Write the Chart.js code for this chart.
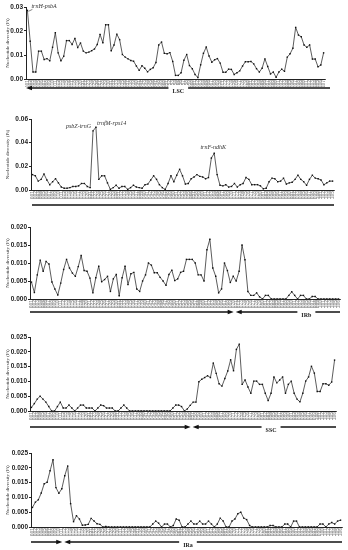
<!DOCTYPE html>
<html>
<head>
<meta charset="utf-8">
<script src="https://cdn.jsdelivr.net/npm/chart.js@4.4.1/dist/chart.umd.min.js"></script>
<style>
    body { margin: 0; background: #fff; width: 348px; height: 550px; overflow: hidden; position: relative; }
    .panel { position: absolute; left: 0; width: 348px; }
</style>
</head>
<body>
<div class="panel" style="top:0;height:100px"><canvas id="c0"></canvas></div>
<div class="panel" style="top:110px;height:100px"><canvas id="c1"></canvas></div>
<div class="panel" style="top:220px;height:100px"><canvas id="c2"></canvas></div>
<div class="panel" style="top:330px;height:108px"><canvas id="c3"></canvas></div>
<div class="panel" style="top:440px;height:110px"><canvas id="c4"></canvas></div>
<script>
// nucleotide diversity per sliding window
const piLSC = [
    0.0286, 0.0157, 0.0029, 0.0029, 0.0116, 0.0116, 0.0081, 0.0085, 0.0076, 0.0132,
    0.0193, 0.0109, 0.0076, 0.0095, 0.016, 0.016, 0.0144, 0.0169, 0.0131, 0.015,
    0.0116, 0.0109, 0.0112, 0.0118, 0.0125, 0.0144, 0.0186, 0.0151, 0.0226, 0.0226,
    0.0118, 0.0142, 0.0187, 0.0164, 0.0102, 0.0091, 0.0084, 0.0077, 0.0074, 0.0054,
    0.0036, 0.0055, 0.0045, 0.003, 0.004, 0.0047, 0.0069, 0.0142, 0.0154, 0.0107,
    0.0105, 0.011, 0.0073, 0.0015, 0.0015, 0.0026, 0.0078, 0.0102, 0.0056, 0.0043,
    0.0019, 0.0006, 0.0059, 0.0107, 0.0133, 0.0096, 0.007, 0.008, 0.0085, 0.0066,
    0.0028, 0.0028, 0.0041, 0.004, 0.0019, 0.0026, 0.0034, 0.0054, 0.0072, 0.0072,
    0.0073, 0.0063, 0.0043, 0.0029, 0.0045, 0.0084, 0.0052, 0.0021, 0.0029, 0.0007,
    0.0029, 0.0041, 0.0032, 0.0091, 0.0105, 0.0128, 0.0215, 0.0183, 0.0176, 0.0142,
    0.0132, 0.0142, 0.0083, 0.0083, 0.0051, 0.0058, 0.0109
];
const piLSC2 = [
    0.013, 0.012, 0.0075, 0.009, 0.0135, 0.0085, 0.0045, 0.007, 0.0095, 0.006,
    0.0025, 0.0015, 0.0015, 0.002, 0.003, 0.003, 0.0035, 0.0055, 0.0055, 0.003,
    0.002, 0.05, 0.053, 0.009, 0.012, 0.012, 0.006, 0.0005, 0.002, 0.004,
    0.0015, 0.003, 0.003, 0.0005, 0.002, 0.004, 0.0025, 0.002, 0.0015, 0.0045,
    0.005, 0.0085, 0.012, 0.009, 0.0045, 0.002, 0.0005, 0.0055, 0.012, 0.007,
    0.0125, 0.0175, 0.012, 0.005, 0.0055, 0.0095, 0.011, 0.013, 0.0115, 0.011,
    0.0095, 0.0105, 0.027, 0.031, 0.013, 0.004, 0.0035, 0.0045, 0.0025, 0.003,
    0.0055, 0.0025, 0.0045, 0.0055, 0.0105, 0.009, 0.0045, 0.0045, 0.0045, 0.0035,
    0.001, 0.0015, 0.007, 0.01, 0.0095, 0.007, 0.0075, 0.01, 0.005, 0.006,
    0.0065, 0.009, 0.0125, 0.009, 0.007, 0.004, 0.009, 0.0125, 0.01, 0.0095,
    0.0085, 0.0045, 0.006, 0.0075, 0.0075
];
const piIRb = [
    0.0047, 0.0018, 0.0067, 0.0108, 0.0077, 0.0104, 0.0097, 0.0047, 0.0028, 0.0011,
    0.0044, 0.0082, 0.011, 0.0086, 0.0072, 0.0063, 0.009, 0.0121, 0.0079, 0.0077,
    0.0058, 0.0017, 0.0059, 0.0091, 0.0048, 0.0054, 0.0063, 0.0021, 0.0056, 0.0068,
    0.0009, 0.0059, 0.0091, 0.004, 0.007, 0.0074, 0.0028, 0.0021, 0.005, 0.0067,
    0.01, 0.0094, 0.0073, 0.0073, 0.006, 0.005, 0.0038, 0.0068, 0.008, 0.0051,
    0.0056, 0.0074, 0.0077, 0.011, 0.011, 0.011, 0.01, 0.0067, 0.0067, 0.005,
    0.0137, 0.0166, 0.0086, 0.0063, 0.0017, 0.0028, 0.01, 0.0079, 0.0046, 0.0063,
    0.005, 0.0077, 0.015, 0.0109, 0.0021, 0.001, 0.001, 0.0017, 0.0006, 0,
    0.001, 0.001, 0, 0, 0, 0, 0, 0, 0.001, 0.002,
    0.001, 0, 0.001, 0.001, 0, 0, 0.0007, 0.0007, 0, 0,
    0, 0, 0, 0, 0, 0
];
const piSSC = [
    0.0012, 0.0025, 0.004, 0.005, 0.004, 0.003, 0.0015, 0, 0, 0.0015,
    0.003, 0.001, 0.001, 0.002, 0.001, 0, 0.001, 0.002, 0.002, 0.001,
    0.001, 0.001, 0, 0.001, 0.002, 0.0018, 0.001, 0.001, 0.001, 0,
    0, 0.001, 0.002, 0.001, 0, 0, 0, 0, 0, 0,
    0, 0, 0, 0, 0, 0, 0, 0, 0, 0.001,
    0.002, 0.002, 0.0015, 0, 0.0007, 0.0019, 0.003, 0.003, 0.0099, 0.0107,
    0.0113, 0.0119, 0.0113, 0.0162, 0.0127, 0.0092, 0.0084, 0.011, 0.0135, 0.0173,
    0.0136, 0.0208, 0.0226, 0.009, 0.0105, 0.0081, 0.006, 0.0101, 0.0101, 0.009,
    0.009, 0.006, 0.0035, 0.006, 0.0115, 0.0095, 0.0105, 0.0115, 0.006, 0.009,
    0.0101, 0.006, 0.004, 0.0031, 0.006, 0.0101, 0.0115, 0.0151, 0.0128, 0.0066,
    0.0066, 0.0092, 0.0092, 0.0087, 0.0098, 0.0172
];
const piIRa = [
    0.0066, 0.0084, 0.0092, 0.0115, 0.0146, 0.0151, 0.019, 0.0227, 0.0133, 0.0114,
    0.0129, 0.0173, 0.0206, 0.0079, 0.0018, 0.0038, 0.0027, 0.0006, 0.0007, 0.0009,
    0.0029, 0.002, 0.0011, 0.0009, 0, 0.0002, 0, 0, 0, 0,
    0, 0, 0, 0, 0, 0, 0, 0, 0, 0,
    0, 0.001, 0.002, 0.0013, 0, 0.001, 0.001, 0, 0.0005, 0.0027,
    0.0023, 0, 0, 0.001, 0.002, 0.001, 0.001, 0.002, 0.001, 0.001,
    0.002, 0.001, 0, 0.001, 0.003, 0.002, 0, 0, 0.002, 0.0027,
    0.0045, 0.005, 0.003, 0.0025, 0.0005, 0, 0, 0, 0, 0,
    0, 0.0005, 0.0005, 0, 0, 0, 0.001, 0.001, 0, 0.002,
    0.002, 0, 0, 0, 0, 0, 0, 0, 0.001, 0.001,
    0, 0.001, 0.0015, 0.001, 0.002, 0.0023
];

// region bar under each panel: name, window where the region starts, window under the name
const regionNames = ['LSC', '', 'IRb', 'SSC', 'IRa'];
const regionStart = [null, null, 69.5, 55.5, 10.5];
const regionLabelAt = [54, null, 94, 83, 53];

// labelled hotspots
const hotPanel = [0, 1, 1, 1];
const hotIndex = [0, 21, 22, 63];
const hotText = ['trnH-psbA', 'psbZ-trnG', 'trnfM-rps14', 'trnF-ndhK'];

const yMax = [0.03, 0.06, 0.02, 0.025, 0.025];
const yStep = [0.01, 0.02, 0.005, 0.005, 0.005];
const yDecimals = [2, 2, 3, 3, 3];

const series = [piLSC, piLSC2, piIRb, piSSC, piIRa];

// frame of each panel in its own canvas
const frames = [
    { top: 7, bottom: 13, left: 26, right: 23, xh: 8, bar: 9, heads: 'l' },
    { top: 9, bottom: 10, left: 31, right: 14, xh: 10, bar: 15, heads: '' },
    { top: 7, bottom: 12, left: 30, right: 8, xh: 9, bar: 13, heads: 'rl' },
    { top: 7, bottom: 18, left: 30, right: 12, xh: 9, bar: 16, heads: 'rl' },
    { top: 13, bottom: 13, left: 31, right: 6, xh: 10, bar: 15, heads: 'rl' }
];

function arrow(ctx, x1, x2, y, head) {
    ctx.save();
    ctx.strokeStyle = '#111';
    ctx.fillStyle = '#111';
    ctx.lineWidth = 1.5;
    const a = head === 'l' ? x1 + 5 : x1;
    const b = head === 'r' ? x2 - 5 : x2;
    ctx.beginPath();
    ctx.moveTo(a, y);
    ctx.lineTo(b, y);
    ctx.stroke();
    ctx.beginPath();
    if (head === 'l') {
        ctx.moveTo(x1, y); ctx.lineTo(x1 + 6, y - 2.2); ctx.lineTo(x1 + 6, y + 2.2);
    } else if (head === 'r') {
        ctx.moveTo(x2, y); ctx.lineTo(x2 - 6, y - 2.2); ctx.lineTo(x2 - 6, y + 2.2);
    }
    ctx.closePath();
    if (head) ctx.fill();
    ctx.restore();
}

function panel(k) {
    const f = frames[k];
    const values = series[k];
    const labels = values.map((_, i) => String(i + 1).padStart(3, '0'));

    const decor = {
        id: 'decor' + k,
        afterDraw(chart) {
            const ctx = chart.ctx;
            const area = chart.chartArea;
            const xs = chart.scales.x, ys = chart.scales.y;
            const y = area.bottom + f.bar;

            // region bar
            if (f.heads === 'l') {
                arrow(ctx, area.left, area.right + 5, y, 'l');
            } else if (f.heads === '') {
                arrow(ctx, area.left + 1, area.right, y, '');
            } else {
                const s = xs.getPixelForValue(regionStart[k]);
                arrow(ctx, area.left, s - 1, y, 'r');
                arrow(ctx, s + 1, area.right, y, 'l');
            }
            if (regionNames[k]) {
                const lx = xs.getPixelForValue(regionLabelAt[k]);
                ctx.save();
                ctx.font = 'bold 6px "Liberation Serif"';
                const w = ctx.measureText(regionNames[k]).width;
                ctx.fillStyle = '#fff';
                ctx.fillRect(lx - w / 2 - 4, y - 3, w + 8, 6);
                ctx.fillStyle = '#222';
                ctx.textAlign = 'center';
                ctx.textBaseline = 'middle';
                ctx.fillText(regionNames[k], lx, y + 3);
                ctx.restore();
            }

            // hotspot names
            ctx.save();
            ctx.font = 'italic 6px "Liberation Serif"';
            ctx.fillStyle = '#333';
            ctx.textBaseline = 'alphabetic';
            hotPanel.forEach((p, j) => {
                if (p !== k) return;
                const px = xs.getPixelForValue(hotIndex[j]);
                const py = ys.getPixelForValue(values[hotIndex[j]]);
                const t = hotText[j];
                if (t === 'trnH-psbA') {
                    ctx.textAlign = 'left';
                    ctx.fillText(t, px + 4, py - 2);
                    ctx.strokeStyle = '#333';
                    ctx.lineWidth = 0.6;
                    ctx.beginPath();
                    ctx.moveTo(px + 5, py - 1);
                    ctx.lineTo(px + 1, py + 1);
                    ctx.stroke();
                } else if (t === 'psbZ-trnG') {
                    ctx.textAlign = 'right';
                    ctx.fillText(t, px - 2, py - 3);
                } else if (t === 'trnfM-rps14') {
                    ctx.textAlign = 'left';
                    ctx.fillText(t, px + 1, py - 2);
                } else {
                    ctx.textAlign = 'center';
                    ctx.fillText(t, px - 1, py - 4);
                }
            });
            ctx.restore();
        }
    };

    new Chart('c' + k, {
        type: 'line',
        data: {
            labels: labels,
            datasets: [{
                data: values,
                borderColor: '#333',
                borderWidth: 0.8,
                pointRadius: 1,
                pointStyle: 'rect',
                pointBackgroundColor: '#111',
                pointBorderWidth: 0,
                tension: 0
            }]
        },
        options: {
            responsive: true,
            maintainAspectRatio: false,
            animation: false,
            layout: { padding: { top: f.top, bottom: f.bottom, right: f.right, left: 5 } },
            plugins: { legend: { display: false }, tooltip: { enabled: false } },
            scales: {
                x: {
                    offset: true,
                    grid: { drawOnChartArea: false, tickLength: 1, color: '#aaa', lineWidth: 0.5 },
                    border: { color: '#222', width: 1 },
                    ticks: {
                        autoSkip: false, maxRotation: 90, minRotation: 90,
                        font: { size: 5, weight: 'bold', family: 'Liberation Sans' }, color: '#999', padding: 0
                    },
                    afterFit: s => { s.height = f.xh; }
                },
                y: {
                    min: 0,
                    max: yMax[k],
                    border: { color: '#222', width: 1 },
                    grid: { drawOnChartArea: false, tickLength: 2, color: '#222' },
                    ticks: {
                        stepSize: yStep[k],
                        callback: v => v.toFixed(yDecimals[k]),
                        font: { size: 6.5, weight: 'bold', family: 'Liberation Sans' },
                        color: '#222',
                        padding: 1
                    },
                    title: {
                        display: true,
                        text: 'Nucleotide diversity (Pi)',
                        font: { size: 5, family: 'Liberation Serif' },
                        color: '#333',
                        padding: 0
                    },
                    afterFit: s => { s.width = f.left - 5; }
                }
            }
        },
        plugins: [decor]
    });
}

for (let k = 0; k < 5; k++) panel(k);
</script>
</body>
</html>
